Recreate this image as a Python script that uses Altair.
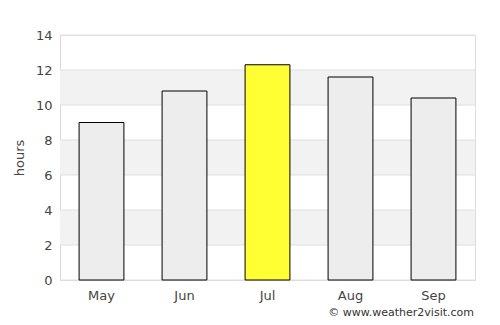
import altair as alt
import pandas as pd

months = ["May", "Jun", "Jul", "Aug", "Sep"]
hours = [9.0, 10.8, 12.3, 11.6, 10.4]
highlight = [False, False, True, False, False]
band_starts = [2, 6, 10]
band_ends = [4, 8, 12]
y_ticks = [0, 2, 4, 6, 8, 10, 12, 14]

bars_df = pd.DataFrame({"month": months, "hours": hours, "hl": highlight})
bands_df = pd.DataFrame({"y0": band_starts, "y1": band_ends})
grid_df = pd.DataFrame({"v": y_ticks})

FONT = "DejaVu Sans"
yscale = alt.Scale(domain=[0, 14], nice=False)
yaxis = alt.Axis(values=y_ticks, grid=False, ticks=False, domain=True,
                 labelOverlap=False, labelFlush=False,
                 domainColor="#d9d9d9", labelColor="#444444",
                 labelFontSize=13, labelFont=FONT, labelPadding=8,
                 titleFont=FONT, titleFontSize=13, titleFontWeight="normal",
                 titleColor="#444444", titlePadding=9)

bands = alt.Chart(bands_df).mark_rect(color="#f2f2f2").encode(
    y=alt.Y("y0:Q", scale=yscale, title="hours", axis=yaxis),
    y2="y1:Q",
    x=alt.value(0),
    x2=alt.value(415),
)

grid = alt.Chart(grid_df).mark_rule(color="#e0e0e0", strokeWidth=1).encode(
    y=alt.Y("v:Q", scale=yscale, title="hours", axis=yaxis),
    x=alt.value(0),
    x2=alt.value(415),
)

bars = alt.Chart(bars_df).mark_bar(stroke="black", strokeWidth=1).encode(
    x=alt.X("month:N", sort=months, title=None,
            scale=alt.Scale(paddingInner=0.46, paddingOuter=0.23),
            axis=alt.Axis(labelAngle=0, ticks=False, domain=True, domainColor="#d9d9d9",
                          labelColor="#444444", labelFontSize=13, labelFont=FONT,
                          labelPadding=9)),
    y=alt.Y("hours:Q", scale=yscale, title="hours", axis=yaxis),
    color=alt.condition(alt.datum.hl, alt.value("#ffff33"), alt.value("#ededed")),
)

credit = alt.Chart(pd.DataFrame({"t": ["© www.weather2visit.com"]})).mark_text(
    align="right", baseline="middle", font=FONT, fontSize=11, color="#333333"
).encode(text="t:N", x=alt.value(414), y=alt.value(278))

chart = alt.layer(bands, grid, bars, credit).properties(
    width=415, height=245,
    autosize=alt.AutoSizeParams(type="none"),
    padding={"left": 60, "top": 35, "right": 25, "bottom": 45},
).configure_view(stroke="#dddddd", strokeWidth=1).configure(
    background="white"
).configure_axis(labelOverlap=False)

chart.save("out.html", embed_options={"renderer": "svg", "actions": False})
